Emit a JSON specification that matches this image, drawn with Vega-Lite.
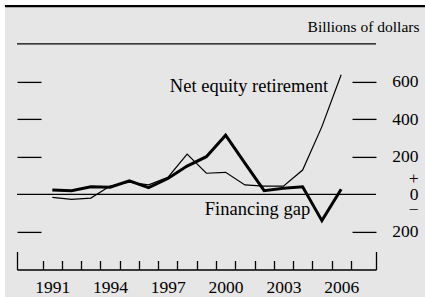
{
  "$schema": "https://vega.github.io/schema/vega-lite/v6.json",
  "width": 359,
  "height": 225.6,
  "autosize": {"type": "none"},
  "padding": {"left": 17, "top": 43.9, "right": 49, "bottom": 27.5},
  "background": "white",
  "config": {
    "view": {"stroke": null}
  },
  "datasets": {
    "series": [
      {"year": 1991, "series": "Financing gap", "value": 23},
      {"year": 1992, "series": "Financing gap", "value": 19},
      {"year": 1993, "series": "Financing gap", "value": 40},
      {"year": 1994, "series": "Financing gap", "value": 38},
      {"year": 1995, "series": "Financing gap", "value": 72},
      {"year": 1996, "series": "Financing gap", "value": 35},
      {"year": 1997, "series": "Financing gap", "value": 84},
      {"year": 1998, "series": "Financing gap", "value": 150},
      {"year": 1999, "series": "Financing gap", "value": 200},
      {"year": 2000, "series": "Financing gap", "value": 314},
      {"year": 2001, "series": "Financing gap", "value": 166},
      {"year": 2002, "series": "Financing gap", "value": 19},
      {"year": 2003, "series": "Financing gap", "value": 32},
      {"year": 2004, "series": "Financing gap", "value": 40},
      {"year": 2005, "series": "Financing gap", "value": -140},
      {"year": 2006, "series": "Financing gap", "value": 27},
      {"year": 1991, "series": "Net equity retirement", "value": -16},
      {"year": 1992, "series": "Net equity retirement", "value": -27},
      {"year": 1993, "series": "Net equity retirement", "value": -20},
      {"year": 1994, "series": "Net equity retirement", "value": 44},
      {"year": 1995, "series": "Net equity retirement", "value": 64},
      {"year": 1996, "series": "Net equity retirement", "value": 50},
      {"year": 1997, "series": "Net equity retirement", "value": 90},
      {"year": 1998, "series": "Net equity retirement", "value": 214},
      {"year": 1999, "series": "Net equity retirement", "value": 112},
      {"year": 2000, "series": "Net equity retirement", "value": 117},
      {"year": 2001, "series": "Net equity retirement", "value": 50},
      {"year": 2002, "series": "Net equity retirement", "value": 44},
      {"year": 2003, "series": "Net equity retirement", "value": 43},
      {"year": 2004, "series": "Net equity retirement", "value": 129},
      {"year": 2005, "series": "Net equity retirement", "value": 360},
      {"year": 2006, "series": "Net equity retirement", "value": 636}
    ],
    "labels": [
      {"label": "Net equity retirement", "year": 2005.32, "value": 546},
      {"label": "Financing gap", "year": 2004.39, "value": -110}
    ],
    "frame": [
      {"part": "panel", "x0": 1988.54, "x1": 2011, "y0": 1007, "y1": -700},
      {"part": "bar", "x0": 1988.54, "x1": 2011, "y0": 1007, "y1": 995}
    ],
    "refs": [
      {"ref": "top", "value": 800},
      {"ref": "zero", "value": 0}
    ]
  },
  "resolve": {
    "axis": {"x": "independent", "y": "independent"},
    "scale": {"strokeWidth": "independent", "color": "independent"}
  },
  "layer": [
    {
      "data": {"name": "frame"},
      "mark": {"type": "rect", "clip": false},
      "encoding": {
        "x": {
          "field": "x0", "type": "quantitative",
          "scale": {"domain": [1989.165, 2007.81], "nice": false, "zero": false},
          "axis": {
            "orient": "bottom",
            "title": null,
            "grid": false,
            "values": [1989.165, 2007.81],
            "tickSize": -18,
            "tickWidth": 1.3,
            "tickColor": "black",
            "labels": false,
            "domain": false,
            "zindex": 1
          }
        },
        "x2": {"field": "x1"},
        "y": {
          "field": "y0", "type": "quantitative",
          "scale": {"domain": [-400, 800], "nice": false, "zero": false},
          "axis": {
            "orient": "right",
            "title": null,
            "grid": false,
            "values": [0],
            "ticks": false,
            "domain": false,
            "labelFont": "Liberation Serif",
            "labelFontSize": 17.5,
            "labelColor": "black",
            "labelAlign": "right",
            "labelPadding": 42,
            "labelLineHeight": 15.5,
            "labelOffset": -15.5,
            "labelOverlap": false,
            "labelBound": false,
            "labelFlush": false,
            "labelExpr": "['+', '0', '\u2212']",
            "zindex": 1
          }
        },
        "y2": {"field": "y1"},
        "color": {
          "field": "part", "type": "nominal",
          "scale": {"domain": ["panel", "bar"], "range": ["#e6e6e6", "#000000"]},
          "legend": null
        }
      }
    },
    {
      "data": {"name": "refs"},
      "mark": {"type": "rule", "color": "black", "strokeWidth": 1.3},
      "encoding": {
        "y": {
          "field": "value", "type": "quantitative",
          "axis": {
            "orient": "left",
            "title": null,
            "grid": false,
            "values": [600, 400, 200, -200],
            "tickSize": -24,
            "tickWidth": 1.3,
            "tickColor": "black",
            "labels": false,
            "domain": false,
            "zindex": 1
          }
        }
      }
    },
    {
      "data": {"name": "series"},
      "mark": {"type": "line", "color": "black"},
      "encoding": {
        "x": {
          "field": "year", "type": "quantitative",
          "axis": {
            "orient": "bottom",
            "title": null,
            "grid": false,
            "values": [1990.5, 1991.5, 1992.5, 1993.5, 1994.5, 1995.5, 1996.5, 1997.5, 1998.5, 1999.5, 2000.5, 2001.5, 2002.5, 2003.5, 2004.5, 2005.5, 2006.5],
            "tickSize": -9,
            "tickWidth": 1.3,
            "tickColor": "black",
            "labels": false,
            "domain": true,
            "domainWidth": 1.3,
            "domainColor": "black",
            "zindex": 1
          }
        },
        "y": {
          "field": "value", "type": "quantitative",
          "axis": {
            "orient": "right",
            "grid": false,
            "title": "Billions of dollars",
            "titleFont": "Liberation Serif",
            "titleFontSize": 15.5,
            "titleFontWeight": "normal",
            "titleColor": "black",
            "titleAngle": 0,
            "titleAlign": "right",
            "titleBaseline": "alphabetic",
            "titleX": 43,
            "titleY": -12,
            "values": [600, 400, 200, -200],
            "tickSize": -24,
            "tickWidth": 1.3,
            "tickColor": "black",
            "labelFont": "Liberation Serif",
            "labelFontSize": 17.5,
            "labelColor": "black",
            "labelPadding": 66,
            "labelAlign": "right",
            "labelOverlap": false,
            "labelBound": false,
            "labelFlush": false,
            "labelExpr": "'' + abs(datum.value)",
            "domain": false,
            "zindex": 1
          }
        },
        "detail": {"field": "series"},
        "strokeWidth": {
          "field": "series", "type": "nominal",
          "scale": {"domain": ["Financing gap", "Net equity retirement"], "range": [3, 1.2]},
          "legend": null
        }
      }
    },
    {
      "data": {"name": "labels"},
      "mark": {
        "type": "text",
        "align": "right",
        "baseline": "alphabetic",
        "font": "Liberation Serif",
        "fontSize": 18.5,
        "color": "black"
      },
      "encoding": {
        "x": {
          "field": "year", "type": "quantitative",
          "axis": {
            "orient": "bottom",
            "title": null,
            "grid": false,
            "values": [1991, 1994, 1997, 2000, 2003, 2006],
            "labelExpr": "'' + datum.value",
            "labelFont": "Liberation Serif",
            "labelFontSize": 17.5,
            "labelColor": "black",
            "labelOverlap": false,
            "labelBound": false,
            "labelFlush": false,
            "ticks": false,
            "domain": false,
            "labelPadding": 9,
            "zindex": 1
          }
        },
        "y": {"field": "value", "type": "quantitative", "axis": null},
        "text": {"field": "label"}
      }
    }
  ]
}
